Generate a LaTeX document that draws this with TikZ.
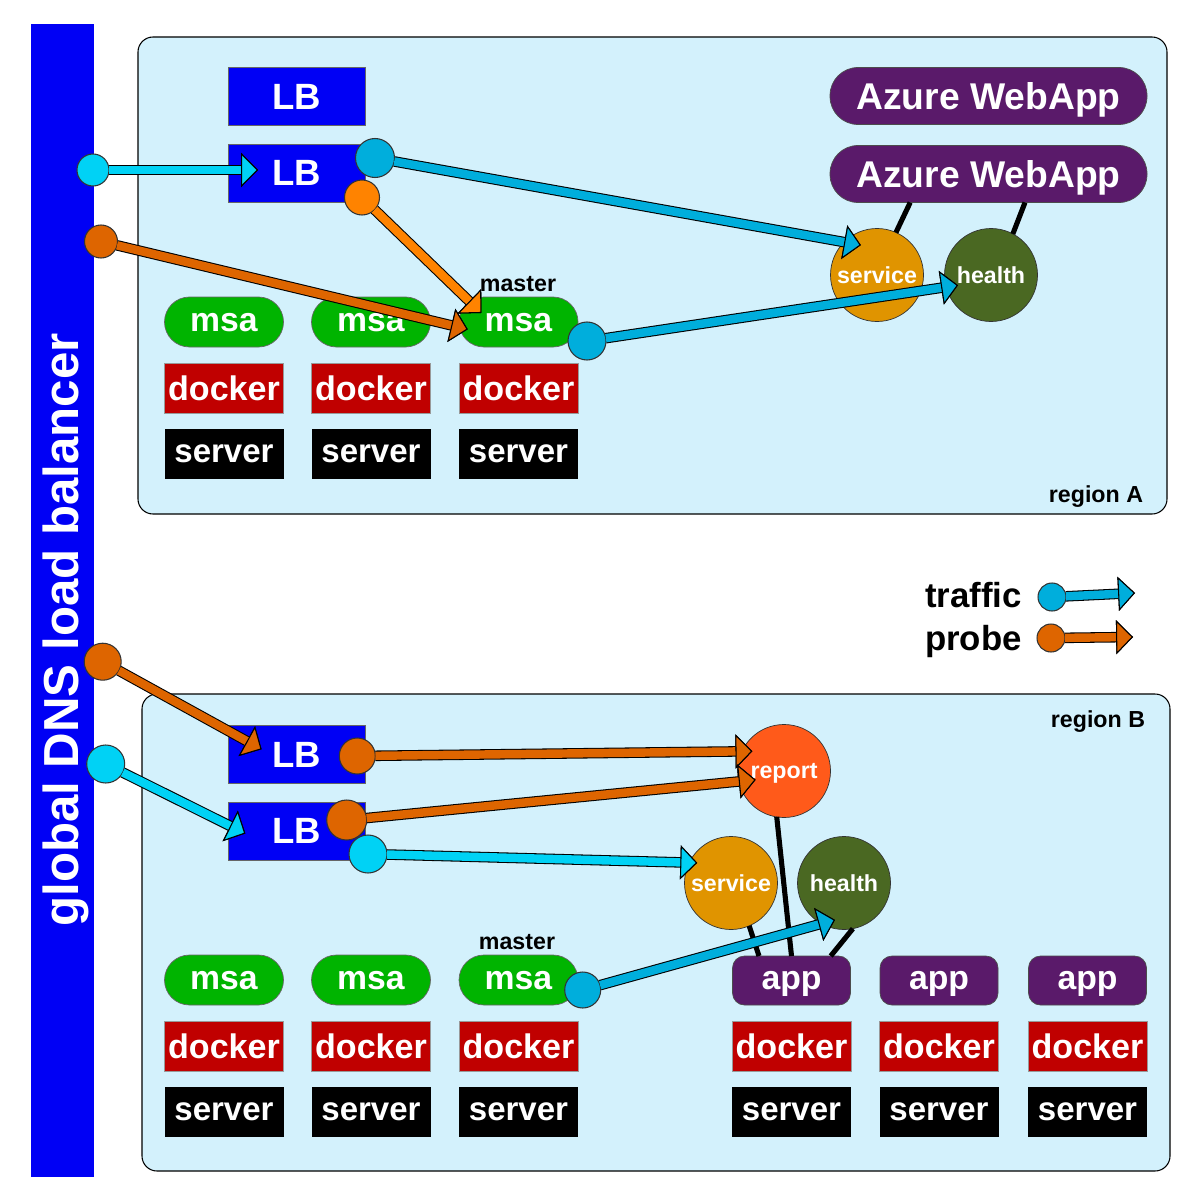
\documentclass[tikz,border=0pt]{standalone}
\usepackage{fontspec}
\setmainfont{Liberation Sans}
\usetikzlibrary{arrows.meta}

\definecolor{dnsblue}{RGB}{0,0,245}
\definecolor{regionbg}{RGB}{211,241,252}
\definecolor{webpurple}{RGB}{90,26,106}
\definecolor{msagreen}{RGB}{0,180,0}
\definecolor{dockerred}{RGB}{192,0,0}
\definecolor{svcorange}{RGB}{224,148,0}
\definecolor{hlthgreen}{RGB}{74,104,34}
\definecolor{rptorange}{RGB}{255,90,26}
\definecolor{trafblue}{RGB}{0,174,220}
\definecolor{lbcyan}{RGB}{0,210,245}
\definecolor{probeorange}{RGB}{222,101,0}
\definecolor{brightorange}{RGB}{255,131,0}

\newcommand\fnt[1]{\fontsize{#1}{#1}\selectfont\bfseries}

\begin{document}
\begin{tikzpicture}[x=0.1mm, y=-0.1mm,
  every node/.style={inner sep=0pt, outer sep=0pt, text=white},
  box/.style={text depth=0pt},
  lb/.style={box, fill=dnsblue, draw=black!60, line width=0.2pt, minimum width=13.7mm, minimum height=5.8mm, font=\fnt{10.4}},
  web/.style={box, fill=webpurple, draw=black!70, line width=0.2pt, rounded corners=2.8mm, minimum width=31.7mm, minimum height=5.7mm, font=\fnt{10.6}},
  msa/.style={box, fill=msagreen, draw=black!60, line width=0.2pt, rounded corners=2.5mm, minimum width=11.9mm, minimum height=5mm, font=\fnt{9.6}},
  dock/.style={box, fill=dockerred, draw=black!40, line width=0.2pt, minimum width=11.9mm, minimum height=5mm, font=\fnt{9.7}},
  srv/.style={box, fill=black, minimum width=11.9mm, minimum height=5mm, font=\fnt{9.4}},
  app/.style={box, fill=webpurple, draw=black!70, line width=0.2pt, rounded corners=1.2mm, minimum width=11.8mm, minimum height=4.9mm, font=\fnt{9.6}},
  ball/.style={box, circle, fill=#1, draw=black!80, line width=0.2pt, minimum size=9.3mm, font=\fnt{6.6}},
  dot/.style={circle, fill=#1, draw=black!80, line width=0.3pt},
  lbl/.style={text=black, font=\fnt{6.6}},
  link/.style={line width=1.45pt},
  flow/.style={draw=#1, line width=2.4pt, preaction={draw=black, line width=3pt},
    -{Triangle[length=4.8pt, width=9.7pt, fill=#1, color=black, line width=0.3pt]}},
  region/.style={fill=regionbg, draw=black, line width=0.3pt, rounded corners=1.5mm}]

\useasboundingbox (0,0) rectangle (1200,1200);

\draw[region] (138,37) rectangle (1167,514);
\draw[region] (142,694) rectangle (1170,1171);
\fill[dnsblue] (31,24) rectangle (94,1177);
\node[rotate=90, anchor=base, font=\fnt{14}] (dns) at (78,630) {global DNS load balancer};

\node[lbl, anchor=base east] (regA) at (1143,502) {region A};
\node[lbl, anchor=base east] (regB) at (1145,727) {region B};

\node[lb] (lbA1) at (296.5,96.5) {LB};
\node[lb] (lbA2) at (296.5,173) {LB};
\node[web] (webA1) at (988.5,96) {Azure WebApp};
\node[web] (webA2) at (988.5,174) {Azure WebApp};
\node[ball=svcorange] (svcA) at (877,275) {service};
\node[ball=hlthgreen] (hlthA) at (991,275) {health};

\node[msa] (msaA1) at (224,322) {msa};
\node[msa] (msaA2) at (371,322) {msa};
\node[msa] (msaA3) at (518.5,322) {msa};
\node[lbl, anchor=base] (mstA) at (518,291) {master};
\node[dock] (dockA1) at (224,388) {docker};
\node[dock] (dockA2) at (371,388) {docker};
\node[dock] (dockA3) at (518.5,388) {docker};
\node[srv] (srvA1) at (224,453.5) {server};
\node[srv] (srvA2) at (371,453.5) {server};
\node[srv] (srvA3) at (518.5,453.5) {server};

\node[lb] (lbB1) at (296.8,754.5) {LB};
\node[lb] (lbB2) at (296.8,831) {LB};
\node[ball=rptorange] (rptB) at (784,771) {report};
\node[ball=svcorange] (svcB) at (731,883) {service};
\node[ball=hlthgreen] (hlthB) at (844,883) {health};

\node[msa] (msaB1) at (224,980) {msa};
\node[msa] (msaB2) at (371,980) {msa};
\node[msa] (msaB3) at (518.5,980) {msa};
\node[lbl, anchor=base] (mstB) at (517,949) {master};
\node[dock] (dockB1) at (224,1046) {docker};
\node[dock] (dockB2) at (371,1046) {docker};
\node[dock] (dockB3) at (518.5,1046) {docker};
\node[srv] (srvB1) at (224,1111.5) {server};
\node[srv] (srvB2) at (371,1111.5) {server};
\node[srv] (srvB3) at (518.5,1111.5) {server};

\node[app] (appB1) at (791.5,980.5) {app};
\node[app] (appB2) at (939,980.5) {app};
\node[app] (appB3) at (1087.5,980.5) {app};
\node[dock] (dockB4) at (791.5,1046) {docker};
\node[dock] (dockB5) at (939,1046) {docker};
\node[dock] (dockB6) at (1087.5,1046) {docker};
\node[srv] (srvB4) at (791.5,1111.5) {server};
\node[srv] (srvB5) at (939,1111.5) {server};
\node[srv] (srvB6) at (1087.5,1111.5) {server};

\draw[link] (svcA.66) -- (webA2.200);
\draw[link] (hlthA.62) -- (webA2.322);
\draw[link] (rptB.261) -- (appB1.north);
\draw[link] (svcB.293) -- (appB1.143);
\draw[link] (hlthB.281) -- (appB1.32);

\node[dot=lbcyan, minimum size=3.2mm] (dA1) at (93,170) {};
\node[dot=trafblue, minimum size=3.9mm] (dA2) at (375,158) {};
\node[dot=brightorange, minimum size=3.5mm] (dA3) at (362,197.5) {};
\node[dot=probeorange, minimum size=3.3mm] (dA4) at (101,241.5) {};
\node[dot=trafblue, minimum size=3.8mm] (dA5) at (587,341) {};

\node[dot=probeorange, minimum size=3.7mm] (dB1) at (102.7,661.7) {};
\node[dot=lbcyan, minimum size=3.8mm] (dB2) at (105.7,764) {};
\node[dot=probeorange, minimum size=3.6mm] (dB3) at (357.3,756) {};
\node[dot=probeorange, minimum size=4mm] (dB4) at (346.7,820) {};
\node[dot=lbcyan, minimum size=3.8mm] (dB5) at (368,854) {};
\node[dot=trafblue, minimum size=3.6mm] (dB6) at (582.7,990) {};

\draw[flow=lbcyan, shorten >=-3mm] (dA1) -- (dA1 -| lbA2.west);
\draw[flow=trafblue, shorten >=-1.7mm] (dA2) -- (svcA.north west);
\draw[flow=brightorange, shorten >=-2.3mm] (dA3) -- (msaA3.155);
\draw[flow=probeorange, shorten >=-0.9mm] (dA4) -- (msaA3.185);
\draw[flow=trafblue, shorten >=-1.2mm] (dA5) -- (hlthA.195);

\draw[flow=probeorange, shorten >=-3.8mm] (dB1) -- (lbB1.161);
\draw[flow=lbcyan, shorten >=-1.9mm] (dB2) -- (lbB2.175);
\draw[flow=probeorange, shorten >=-1.05mm] (dB3) -- (rptB.155);
\draw[flow=probeorange, shorten >=-1.7mm] (dB4) -- (rptB.193);
\draw[flow=lbcyan, shorten >=-0.8mm] (dB5) -- (svcB.154);
\draw[flow=trafblue, shorten >=-1.4mm] (dB6) -- (hlthB.241);

\node[text=black, font=\fnt{9.9}, anchor=base west] (lgT) at (925,607) {traffic};
\node[text=black, font=\fnt{9.9}, anchor=base west] (lgP) at (925,650) {probe};
\node[dot=trafblue, minimum size=2.8mm] (ldT) at (1052,597) {};
\node[dot=probeorange, minimum size=2.8mm] (ldP) at (1051,638) {};
\coordinate (leT) at (1135,593);
\coordinate (leP) at (1133,637);
\draw[flow=trafblue] (ldT) -- (leT);
\draw[flow=probeorange] (ldP) -- (leP);
\end{tikzpicture}
\end{document}
